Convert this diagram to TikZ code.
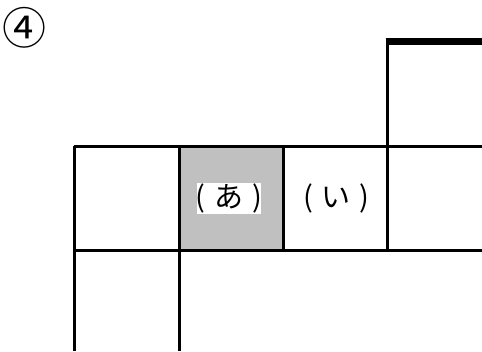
\documentclass[tikz,border=0pt]{standalone}
\usepackage{fontspec}
\newfontfamily\jp{Noto Sans CJK JP}
\tikzset{
  gridline/.style={line width=3pt},
  boldline/.style={line width=6.5pt},
  cell/.style={font=\jp\fontsize{29}{29}\selectfont, inner xsep=0pt, inner ysep=1pt},
}
\begin{document}
\begin{tikzpicture}[x=1pt,y=-1pt]
\useasboundingbox (0,0) rectangle (482,351);
\fill[fill={rgb,255:red,192;green,192;blue,192}] (179,146) rectangle (283,250);
\draw[gridline] (74,146) -- (482,146);
\draw[gridline] (74,250) -- (482,250);
\draw[gridline] (74,146) -- (74,351);
\draw[gridline] (179,146) -- (179,351);
\draw[gridline] (283,146) -- (283,250);
\draw[gridline] (387,39) -- (387,250);
\draw[boldline] (385.5,41.5) -- (482,41.5);
\node[cell, fill=white] (a) at (229,198.5) {\kern-1pt(\hspace{9pt}あ\hspace{9pt})\kern-1pt};
\node[cell] (i) at (336.5,198.5) {(\hspace{9pt}い\hspace{9pt})};
\node[font=\jp\fontsize{44}{44}\selectfont, inner sep=0pt] (num) at (24,28) {④};
\end{tikzpicture}
\end{document}
